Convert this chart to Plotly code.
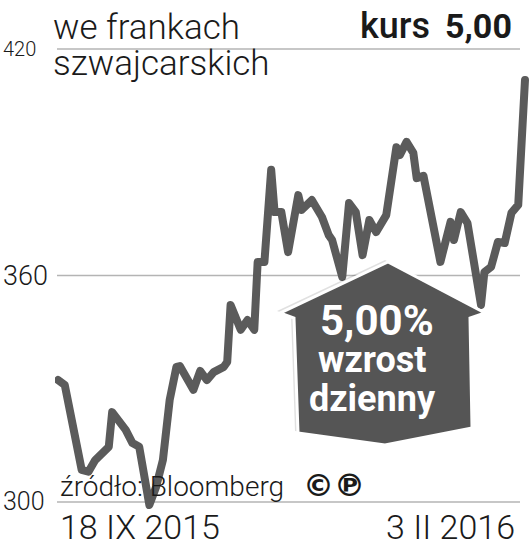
import plotly.graph_objects as go

W, H = 530, 551

# kurs w CHF (18 IX 2015 - 3 II 2016)
dates = [
    '2015-09-18', '2015-09-20', '2015-09-25', '2015-09-27', '2015-09-29',
    '2015-10-01', '2015-10-03', '2015-10-04', '2015-10-06', '2015-10-08',
    '2015-10-10', '2015-10-12', '2015-10-15', '2015-10-17', '2015-10-19',
    '2015-10-21', '2015-10-23', '2015-10-24', '2015-10-28', '2015-10-30',
    '2015-11-01', '2015-11-03', '2015-11-06', '2015-11-07', '2015-11-08',
    '2015-11-11', '2015-11-13', '2015-11-15', '2015-11-16', '2015-11-18',
    '2015-11-20', '2015-11-21', '2015-11-23', '2015-11-25', '2015-11-28',
    '2015-11-29', '2015-12-02', '2015-12-04', '2015-12-05', '2015-12-07',
    '2015-12-08', '2015-12-11', '2015-12-13', '2015-12-15', '2015-12-17',
    '2015-12-19', '2015-12-21', '2015-12-24', '2015-12-27', '2015-12-28',
    '2015-12-30', '2016-01-01', '2016-01-02', '2016-01-04', '2016-01-09',
    '2016-01-12', '2016-01-13', '2016-01-15', '2016-01-17', '2016-01-21',
    '2016-01-22', '2016-01-24', '2016-01-26', '2016-01-28', '2016-01-30',
    '2016-02-01', '2016-02-03',
]
kurs = [
    332.3, 331.0, 308.5, 308.0, 311.1,
    313.2, 314.6, 323.8, 321.7, 319.1,
    315.6, 314.6, 299.2, 304.0, 311.1,
    327.0, 335.8, 336.0, 329.7, 334.7,
    332.3, 334.4, 335.8, 337.1, 352.2,
    345.6, 348.2, 345.6, 363.6, 363.6,
    388.0, 376.8, 376.8, 366.2, 381.3,
    377.4, 380.0, 376.8, 375.5, 370.7,
    369.4, 359.6, 379.2, 376.8, 365.4,
    374.7, 371.5, 376.0, 394.0, 391.9,
    395.4, 392.5, 385.8, 386.4, 363.6,
    374.2, 369.4, 376.8, 373.9, 352.2,
    360.9, 362.3, 368.9, 368.6, 376.6,
    378.7, 411.8,
]

y_ticks = [300, 360, 420]
y_labels = ['300', '360', '420']
y_label_sizes = [25, 27, 20]
x_labels = ['18 IX 2015', '3 II 2016']

LINE_COLOR = '#5b5b5b'
GRID_COLOR = '#b4b4b4'
TEXT_COLOR = '#1a1a1a'
FONT = 'Roboto'


def px(x):
    return x / W


def py(y):
    return 1 - y / H


def path_from_pixels(points):
    parts = [f"{'M' if i == 0 else 'L'} {px(x):.4f} {py(y):.4f}" for i, (x, y) in enumerate(points)]
    return ' '.join(parts) + ' Z'


def text(fig, x, y, label, font, xanchor='left'):
    fig.add_annotation(xref='paper', yref='paper', x=px(x), y=py(y),
                       xanchor=xanchor, yanchor='middle', showarrow=False,
                       text=label, font=font)


def build_figure():
    fig = go.Figure()

    fig.add_trace(go.Scatter(
        x=dates, y=kurs,
        mode='lines',
        line=dict(color=LINE_COLOR, width=8),
        hoverinfo='skip',
        showlegend=False,
    ))

    # linie siatki
    for v in y_ticks:
        fig.add_shape(type='line', xref='paper', yref='y',
                      x0=px(57), x1=px(520), y0=v, y1=v,
                      line=dict(color=GRID_COLOR, width=1.5), layer='below')

    # etykiety osi Y
    for v, lab, size in zip(y_ticks, y_labels, y_label_sizes):
        fig.add_annotation(xref='paper', yref='y', x=px(1), y=v,
                           xanchor='left', yanchor='middle', showarrow=False,
                           text=lab, font=dict(family=FONT, size=size, color=TEXT_COLOR, weight=300))

    # strzałka "wzrost"
    arrow = [(388, 262), (485, 313), (470, 318), (472, 428), (385, 445),
             (298, 433), (294, 318), (280, 313)]
    shadow = [(x - 3, y - 2) for x, y in arrow]
    fig.add_shape(type='path', xref='paper', yref='paper', path=path_from_pixels(shadow),
                  fillcolor='rgba(0,0,0,0.12)', line=dict(width=0))
    fig.add_shape(type='path', xref='paper', yref='paper', path=path_from_pixels(arrow),
                  fillcolor='#555555', line=dict(color='white', width=3))

    bold_white = dict(family=FONT, color='white', weight=700)
    text(fig, 377, 320, '5,00%', dict(size=42, **bold_white), 'center')
    text(fig, 372, 360, 'wzrost', dict(size=36, **bold_white), 'center')
    text(fig, 372, 399, 'dzienny', dict(size=36, **bold_white), 'center')

    # tytuł
    light = dict(family=FONT, color=TEXT_COLOR, weight=300)
    text(fig, 51, 27, 'we frankach', dict(size=35, **light))
    text(fig, 51, 63, 'szwajcarskich', dict(size=35, **light))
    text(fig, 432, 26, 'kurs', dict(family=FONT, size=36, color=TEXT_COLOR, weight=500), 'right')
    text(fig, 514, 26, '5,00', dict(family=FONT, size=34, color=TEXT_COLOR, weight=700), 'right')

    # źródło
    text(fig, 58, 486, 'źródło: Bloomberg', dict(size=28, **light))
    text(fig, 301, 485, '©℗', dict(family='DejaVu Sans', size=31, color=TEXT_COLOR, weight=700))

    # daty na osi X
    text(fig, 58, 527, x_labels[0], dict(size=34, **light))
    text(fig, 517, 527, x_labels[1], dict(size=34, **light), 'right')

    fig.update_xaxes(range=['2015-09-17 02:43', '2016-02-04 11:30'], domain=[55 / W, 1],
                     visible=False, showgrid=False, zeroline=False)
    fig.update_yaxes(range=[287.0, 433.0], domain=[0, 1],
                     visible=False, showgrid=False, zeroline=False)
    fig.update_layout(
        width=W, height=H,
        margin=dict(l=0, r=0, t=0, b=0),
        paper_bgcolor='white',
        plot_bgcolor='white',
    )
    return fig


if __name__ == '__main__':
    fig = build_figure()
    page_fix = (
        "document.body.style.margin='0';"
        "document.querySelectorAll('.scatterlayer path.js-line').forEach(function(p){"
        "p.style.strokeLinejoin='round';p.style.strokeLinecap='round';});"
    )
    fig.write_html('out.html', post_script=page_fix, config={'displayModeBar': False})
